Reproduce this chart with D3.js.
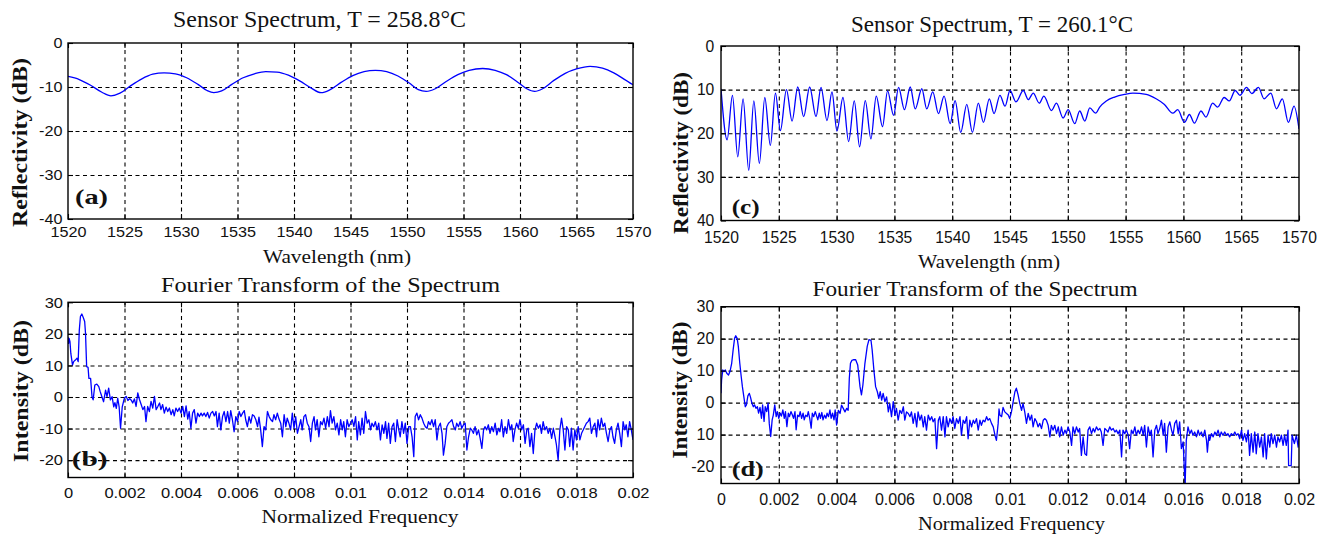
<!DOCTYPE html>
<html>
<head>
<meta charset="utf-8">
<script src="https://cdn.jsdelivr.net/npm/d3@7"></script>
<style>
  body { margin: 0; background: #fff; }
  svg { display: block; }
</style>
</head>
<body>
<svg id="fig" width="1337" height="540"></svg>
<script>
///// DATOS /////

// (a) espectro del sensor, T = 258.8 °C
const wavelengthA = [1520.0,1521.0,1522.0,1523.0,1523.8,1524.6,1525.5,1526.5,1527.5,1528.5,1529.5,1530.5,1531.5,1532.3,1532.9,1533.6,1534.5,1535.5,1536.5,1537.5,1538.5,1539.5,1540.5,1541.5,1542.4,1543.2,1544.2,1545.2,1546.2,1547.2,1548.2,1549.2,1550.2,1551.0,1551.7,1552.5,1553.5,1554.5,1555.5,1556.7,1557.8,1558.8,1559.8,1560.6,1561.3,1562.0,1563.0,1564.0,1565.0,1566.2,1567.3,1568.3,1569.2,1570.0];
const reflectA = [-7.6,-8.3,-9.6,-11.2,-12.0,-11.4,-9.8,-8.2,-7.1,-6.8,-7.0,-7.9,-9.4,-10.8,-11.3,-10.9,-9.4,-7.9,-7.0,-6.5,-6.6,-7.3,-8.6,-10.2,-11.3,-10.6,-8.9,-7.4,-6.5,-6.2,-6.5,-7.5,-9.1,-10.6,-11.0,-10.4,-8.7,-7.2,-6.2,-5.8,-6.2,-7.2,-8.9,-10.4,-11.0,-10.4,-8.5,-6.9,-5.9,-5.3,-5.7,-6.8,-8.2,-9.5];

// (c) espectro del sensor, T = 260.1 °C (picos y valles de las franjas)
const wavelengthC = [
  1520.00,1520.53,1520.99,1521.45,1521.91,1522.40,1522.84,1523.32,1523.79,1524.27,
  1524.71,1525.14,1525.66,1526.15,1526.64,1527.15,1527.67,1528.22,1528.65,1529.17,
  1529.60,1530.03,1530.55,1531.04,1531.53,1531.99,1532.48,1532.97,1533.43,1533.97,
  1534.41,1534.93,1535.36,1535.87,1536.37,1536.80,1537.37,1537.80,1538.32,1538.81,
  1539.30,1539.82,1540.25,1540.74,1541.26,1541.75,1542.26,1542.70,1543.21,1543.62,
  1544.13,1544.57,1545.00,1545.52,1546.15,1546.58,1547.01,1547.53,1547.93,1548.59,
  1549.02,1549.60,1550.03,1550.60,1551.03,1551.47,1551.90,1552.41,1552.76,1553.33,
  1554.05,1554.91,1555.63,1556.78,1557.64,1558.36,1559.08,1559.51,1560.09,1560.52,
  1560.95,1561.52,1561.95,1562.53,1562.96,1563.53,1563.97,1564.48,1564.89,1565.46,
  1565.92,1566.49,1566.98,1567.56,1568.05,1568.56,1569.08,1569.57,1570.00];
const reflectC = [
  9.8,21.5,11.3,25.4,12.1,28.5,12.6,26.9,11.8,22.8,
  10.8,19.4,10.0,17.2,9.4,16.2,9.4,16.2,9.5,17.1,
  10.5,19.5,11.8,21.9,12.6,23.1,12.5,21.3,11.5,18.5,
  10.3,15.9,9.5,14.6,9.4,14.4,9.8,14.4,10.5,15.5,
  11.5,17.8,12.5,19.8,13.4,19.8,13.1,17.5,12.1,15.5,
  11.3,13.8,10.2,12.8,10.2,12.3,10.8,13.1,11.5,14.8,
  13.1,16.5,14.6,17.8,14.9,17.2,14.2,15.4,14.0,12.6,
  11.7,11.1,10.8,11.1,12.1,13.4,15.4,14.6,17.5,15.7,
  17.7,14.9,16.3,13.1,14.0,11.8,12.6,10.2,11.3,9.5,
  10.9,9.5,12.1,10.8,14.4,12.1,17.5,13.8,19.0];

// (b) transformada de Fourier de (a); frecuencia normalizada x 1e-3
const freqB = [
  0.00,0.02,0.04,0.07,0.10,0.16,0.20,0.26,0.32,0.36,0.40,0.44,0.49,0.54,0.59,0.62,0.66,0.71,0.74,0.80,
  0.85,0.89,0.95,1.02,1.09,1.14,1.20,1.26,1.33,1.38,1.44,1.50,1.56,1.62,1.66,1.71,1.76,1.81,1.86,1.92,1.98,
  2.00,2.06,2.12,2.18,2.24,2.29,2.35,2.41,2.47,2.53,2.59,2.65,2.71,2.76,2.82,2.88,2.94,
  3.00,3.06,3.12,3.18,3.24,3.29,3.35,3.41,3.47,3.53,3.59,3.65,3.71,3.76,3.82,3.88,3.94,
  4.00,4.06,4.12,4.18,4.24,4.29,4.35,4.41,4.47,4.53,4.59,4.65,4.71,4.76,4.82,4.88,4.94,
  5.00,5.06,5.12,5.18,5.24,5.29,5.35,5.41,5.47,5.53,5.59,5.65,5.71,5.76,5.82,5.88,5.94,
  6.00,6.06,6.12,6.18,6.24,6.29,6.35,6.41,6.47,6.53,6.59,6.65,6.71,6.76,6.82,6.88,6.94,
  7.00,7.06,7.12,7.18,7.24,7.29,7.35,7.41,7.47,7.53,7.59,7.65,7.71,7.76,7.82,7.88,7.94,
  8.00,8.06,8.12,8.18,8.24,8.29,8.35,8.41,8.47,8.53,8.59,8.65,8.71,8.76,8.82,8.88,8.94,
  9.00,9.06,9.12,9.18,9.24,9.29,9.35,9.41,9.47,9.53,9.59,9.65,9.71,9.76,9.82,9.88,9.94,
  10.00,10.06,10.12,10.18,10.24,10.29,10.35,10.41,10.47,10.53,10.59,10.65,10.71,10.76,10.82,10.88,10.94,
  11.00,11.06,11.12,11.18,11.24,11.29,11.35,11.41,11.47,11.53,11.59,11.65,11.71,11.76,11.82,11.88,11.94,
  12.00,12.06,12.12,12.18,12.24,12.29,12.35,12.41,12.47,12.53,12.59,12.65,12.71,12.76,12.82,12.88,12.94,
  13.00,13.06,13.12,13.18,13.24,13.29,13.35,13.41,13.47,13.53,13.59,13.65,13.71,13.76,13.82,13.88,13.94,
  14.00,14.06,14.12,14.18,14.24,14.29,14.35,14.41,14.47,14.53,14.59,14.65,14.71,14.76,14.82,14.88,14.94,
  15.00,15.06,15.12,15.18,15.24,15.29,15.35,15.41,15.47,15.53,15.59,15.65,15.71,15.76,15.82,15.88,15.94,
  16.00,16.06,16.12,16.18,16.24,16.29,16.35,16.41,16.47,16.53,16.59,16.65,16.71,16.76,16.82,16.88,16.94,
  17.00,17.06,17.12,17.18,17.24,17.29,17.35,17.41,17.47,17.53,17.59,17.65,17.71,17.76,17.82,17.88,17.94,
  18.00,18.06,18.12,18.18,18.24,18.29,18.35,18.41,18.47,18.53,18.59,18.65,18.71,18.76,18.82,18.88,18.94,
  19.00,19.06,19.12,19.18,19.24,19.29,19.35,19.41,19.47,19.53,19.59,19.65,19.71,19.76,19.82,19.88,19.94,
  20.00];
const intensB = [
  19.0,17.0,18.6,17.5,13.8,10.1,11.2,11.7,12.3,11.2,21.2,25.5,26.3,25.2,23.9,20.2,9.6,9.4,5.9,5.9,
  0.1,-0.9,3.8,4.1,3.3,1.7,0.1,-1.5,2.2,0.1,2.8,-0.9,0.1,-3.1,-1.8,-3.6,-0.4,-3.1,-9.9,-3.1,-0.9,
  -0.3,0.2,-1.1,-0.5,-1.0,-1.9,-0.6,-3.0,1.3,-0.8,-2.4,-4.0,-3.0,-7.8,-3.0,-4.6,-1.4,
  -3.5,0.2,-4.0,-3.0,-1.9,-4.0,-2.4,-5.1,-3.2,-4.6,-3.5,-5.6,-4.0,-6.0,-3.5,-4.6,-3.5,
  -5.1,-3.0,-6.2,-2.8,-7.0,-4.6,-9.9,-5.1,-4.0,-8.3,-5.1,-6.2,-5.1,-6.0,-5.1,-6.2,-4.9,
  -6.7,-5.1,-4.6,-6.0,-4.6,-9.4,-5.1,-10.4,-6.2,-4.6,-7.8,-4.6,-8.3,-4.3,-7.2,-11.0,-6.2,
  -7.8,-4.6,-6.2,-5.1,-4.3,-7.2,-9.4,-6.2,-8.3,-5.6,-6.0,-7.2,-9.4,-6.4,-10.4,-15.7,-9.4,
  -10.4,-4.6,-6.2,-7.2,-7.8,-5.6,-7.2,-5.1,-7.0,-8.3,-12.6,-5.6,-9.4,-6.7,-8.3,-10.4,-5.1,
  -9.9,-6.2,-11.5,-9.4,-7.2,-10.4,-6.2,-5.6,-8.3,-9.4,-14.1,-8.3,-6.2,-10.4,-7.2,-12.6,-7.8,
  -8.8,-6.7,-9.9,-6.2,-9.4,-4.3,-8.3,-6.2,-10.4,-8.3,-12.0,-7.2,-10.4,-7.8,-12.6,-7.2,-9.4,
  -8.3,-7.2,-9.4,-6.2,-13.6,-7.8,-12.0,-6.7,-11.5,-4.6,-8.3,-7.2,-10.4,-8.3,-9.4,-7.8,-10.4,
  -8.3,-13.6,-8.8,-11.5,-7.8,-13.1,-8.3,-14.7,-9.4,-8.3,-14.1,-7.2,-10.4,-12.6,-7.8,-11.5,-8.3,
  -14.7,-9.4,-9.4,-12.6,-18.9,-6.2,-5.1,-7.2,-5.6,-6.7,-8.3,-9.4,-9.9,-7.8,-8.8,-7.2,-9.4,
  -7.2,-13.6,-9.4,-8.3,-11.5,-18.4,-14.7,-9.4,-8.3,-7.8,-7.2,-9.4,-10.4,-8.3,-9.4,-7.8,-9.9,
  -8.8,-8.3,-16.8,-12.6,-9.9,-10.4,-11.5,-9.4,-12.0,-10.4,-13.1,-16.3,-10.4,-9.4,-10.4,-8.8,-11.5,
  -9.4,-11.0,-8.3,-12.0,-9.9,-11.0,-7.2,-12.6,-9.4,-11.5,-7.2,-10.4,-8.8,-14.1,-10.4,-8.3,-9.9,
  -7.2,-10.4,-8.8,-14.7,-10.4,-9.9,-15.7,-11.5,-17.9,-10.4,-8.3,-9.9,-8.8,-11.5,-7.8,-10.4,-9.4,
  -11.5,-9.9,-13.1,-9.9,-12.6,-15.2,-20.0,-10.4,-6.7,-10.4,-16.8,-9.4,-10.4,-15.7,-9.9,-16.8,-10.4,
  -13.6,-9.4,-13.6,-11.5,-10.4,-9.4,-8.3,-7.8,-6.7,-11.5,-9.4,-8.3,-12.6,-7.2,-10.4,-6.7,-9.4,
  -8.3,-11.5,-14.1,-10.4,-9.4,-12.6,-14.7,-10.4,-8.3,-11.5,-15.7,-7.8,-10.4,-8.8,-12.6,-7.8,-10.4,
  -13.6];

// (d) transformada de Fourier de (c); frecuencia normalizada x 1e-3
const freqD = [
  0.00,0.02,0.06,0.10,0.15,0.20,0.26,0.31,0.37,0.42,
  0.47,0.51,0.56,0.60,0.65,0.70,0.74,0.79,0.84,0.88,
  0.93,0.98,1.02,1.07,1.12,1.16,1.21,1.26,1.30,1.35,
  1.40,1.44,1.49,1.53,1.58,1.63,1.67,1.72,1.77,1.81,
  1.86,1.91,1.95,2.00,2.05,2.09,2.14,2.19,2.23,2.28,
  2.33,2.37,2.42,2.47,2.51,2.56,2.60,2.65,2.70,2.74,
  2.79,2.84,2.88,2.93,2.98,3.02,3.07,3.12,3.16,3.21,
  3.26,3.30,3.35,3.40,3.44,3.49,3.53,3.58,3.63,3.67,
  3.72,3.77,3.81,3.86,3.91,3.95,4.00,
  4.06,4.12,4.17,4.23,4.29,4.35,4.40,4.44,4.48,4.53,
  4.58,4.66,4.73,4.81,4.86,4.91,4.98,5.06,5.12,5.19,
  5.23,5.29,5.35,5.41,5.46,5.51,5.56,5.61,5.67,5.73,
  5.79,5.84,5.90,5.96,6.02,6.07,6.13,6.19,6.25,6.31,
  6.36,6.42,6.48,6.54,6.59,6.65,6.71,6.77,6.82,6.88,
  6.94,7.00,7.05,7.11,7.17,7.23,7.29,7.34,7.40,7.46,
  7.52,7.57,7.63,7.69,7.75,7.80,7.86,7.92,7.98,8.03,
  8.09,8.15,8.21,8.27,8.32,8.38,8.44,8.50,8.55,8.61,
  8.67,8.73,8.78,8.84,8.90,8.96,9.01,9.07,9.13,9.19,
  9.24,9.30,9.36,9.42,9.48,9.53,9.59,9.62,9.65,9.71,
  9.76,9.82,9.88,9.94,9.99,10.05,10.11,10.17,10.22,10.28,
  10.34,10.40,10.45,10.51,10.57,10.63,10.69,10.75,10.80,10.86,
  10.92,10.97,11.03,11.09,11.15,11.20,11.26,11.32,11.38,11.43,
  11.49,11.55,11.61,11.67,11.72,11.78,11.84,11.90,11.95,12.01,
  12.07,12.13,12.18,12.24,12.30,12.36,12.41,12.47,12.53,12.59,
  12.65,12.70,12.76,12.82,12.88,12.93,12.99,13.05,13.11,13.16,
  13.22,13.28,13.34,13.39,13.45,13.51,13.57,13.63,13.68,13.74,
  13.80,13.86,13.91,13.97,14.03,14.09,14.14,14.20,14.26,14.32,
  14.37,14.43,14.49,14.55,14.61,14.66,14.72,14.78,14.84,14.89,
  14.95,15.01,15.07,15.12,15.18,15.24,15.30,15.35,15.41,15.47,
  15.53,15.59,15.64,15.70,15.76,15.82,15.87,15.93,15.99,16.03,
  16.06,16.10,16.16,16.22,16.28,16.33,16.39,16.45,16.51,16.56,
  16.62,16.68,16.74,16.80,16.83,16.88,16.91,16.97,17.03,17.09,
  17.14,17.20,17.26,17.31,17.37,17.43,17.49,17.54,17.60,17.66,
  17.72,17.78,17.83,17.89,17.95,18.01,18.06,18.12,18.18,18.24,
  18.29,18.35,18.41,18.47,18.52,18.58,18.64,18.70,18.76,18.81,
  18.87,18.93,18.99,19.04,19.10,19.16,19.22,19.27,19.33,19.39,
  19.45,19.50,19.56,19.62,19.64,19.73,19.76,19.84,19.91,19.97,
  20.00];
const intensD = [
  2.9,7.1,10.2,9.7,10.2,9.2,8.6,9.7,12.3,16.5,
  20.1,20.9,20.1,17.5,12.3,8.1,5.0,1.9,-1.3,-0.7,
  2.1,2.9,1.7,-0.2,-1.3,-0.7,-1.8,-1.3,-3.3,-1.5,
  -4.9,-0.7,-5.9,-1.3,-2.8,-0.2,-6.5,-10.6,-5.4,-3.9,
  -0.7,-4.4,-2.8,-4.9,-3.3,-4.2,-2.3,-4.9,-2.8,-7.5,
  -3.3,-4.4,-2.8,-3.9,-4.9,-2.8,-8.5,-3.9,-4.4,-2.8,
  -4.9,-3.3,-5.4,-3.9,-4.4,-2.8,-4.9,-8.0,-3.3,-4.4,
  -2.8,-3.9,-5.4,-3.3,-4.9,-3.1,-5.4,-3.9,-4.9,-3.3,
  -4.4,-2.3,-4.9,-3.3,-5.4,-2.3,-7.0,
  -2.4,-3.4,-0.8,-1.8,-2.9,-1.8,-2.4,7.6,12.3,13.2,
  13.4,13.4,11.8,5.0,2.4,5.5,12.3,17.6,19.7,19.5,
  16.5,10.2,5.0,3.4,1.3,3.4,0.8,2.9,0.3,1.8,
  -2.9,-0.3,-4.4,0.3,-3.9,-1.8,-5.5,-2.4,-3.4,-1.3,
  -5.5,-2.9,-3.4,-4.4,-2.9,-6.5,-3.4,-7.6,-2.9,-5.5,
  -3.9,-7.6,-4.4,-8.6,-3.9,-5.5,-4.4,-6.0,-5.0,-14.4,
  -5.5,-4.4,-8.6,-4.4,-10.7,-4.4,-7.6,-5.0,-6.5,-4.4,
  -8.1,-5.0,-6.5,-4.4,-10.2,-5.5,-6.5,-4.4,-11.3,-5.5,
  -7.6,-5.5,-6.5,-5.0,-8.6,-5.5,-7.1,-5.5,-6.0,-4.4,
  -5.5,-5.0,-6.5,-7.6,-10.2,-11.8,-6.5,-2.0,-3.9,-4.4,
  -1.5,-2.9,-3.4,-3.9,-5.0,-2.9,0.3,3.4,4.5,2.4,
  -0.3,-2.4,-0.3,-2.9,-6.5,-3.4,-5.5,-3.9,-7.6,-5.0,
  -6.0,-7.6,-6.5,-8.1,-5.5,-5.0,-5.5,-7.1,-10.7,-7.1,
  -8.6,-7.1,-9.7,-7.6,-10.7,-7.6,-10.2,-8.6,-9.7,-7.6,
  -9.2,-13.4,-7.6,-9.7,-7.6,-9.2,-8.1,-16.5,-10.7,-16.0,
  -16.5,-8.6,-7.6,-9.7,-8.1,-9.2,-7.6,-8.6,-8.1,-9.2,
  -13.4,-8.1,-8.6,-9.2,-7.6,-8.6,-8.1,-9.2,-8.6,-9.7,
  -8.6,-17.0,-8.6,-9.7,-8.6,-10.2,-14.4,-8.6,-9.7,-7.6,
  -10.2,-8.6,-9.7,-7.6,-10.2,-7.1,-13.9,-7.6,-10.2,-8.6,
  -17.0,-8.6,-7.1,-9.7,-8.1,-5.5,-10.2,-6.5,-15.5,-7.6,
  -6.0,-8.6,-10.2,-6.5,-5.5,-9.7,-6.0,-14.4,-12.3,-20.2,
  -26.0,-11.8,-7.6,-9.7,-8.6,-10.2,-9.2,-10.7,-8.6,-10.2,
  -9.2,-10.7,-8.6,-11.8,-15.5,-10.2,-11.8,-9.7,-10.7,-9.2,
  -10.2,-8.6,-10.7,-9.2,-10.2,-9.2,-10.2,-9.7,-10.7,-9.7,
  -10.2,-9.2,-10.2,-9.7,-11.3,-8.6,-11.8,-9.7,-12.3,-8.6,
  -16.5,-9.7,-15.5,-9.2,-16.0,-9.7,-13.9,-10.7,-17.0,-9.7,
  -17.6,-10.2,-13.9,-9.7,-12.8,-10.2,-13.9,-10.7,-12.3,-10.2,
  -13.4,-10.2,-13.4,-8.6,-19.7,-19.7,-10.2,-12.8,-10.2,-13.9,
  -10.2];

// Marcas de los ejes y sus etiquetas
const wlTicks = [1520,1525,1530,1535,1540,1545,1550,1555,1560,1565,1570];
const wlTickLabels = ['1520','1525','1530','1535','1540','1545','1550','1555','1560','1565','1570'];
const freqTicks = [0,2,4,6,8,10,12,14,16,18,20];
const freqTickLabels = ['0','0.002','0.004','0.006','0.008','0.01','0.012','0.014','0.016','0.018','0.02'];
const reflTicksA = [0,-10,-20,-30,-40];
const reflTickLabelsA = ['0','-10','-20','-30','-40'];
const reflTicksC = [0,10,20,30,40];
const reflTickLabelsC = ['0','10','20','30','40'];
const intensTicks = [30,20,10,0,-10,-20];
const intensTickLabelsB = ['30','20','10','0','-10','-20'];
const intensTickLabelsD = ['30','20','10','0','10','-20'];

// Textos
const titleA = 'Sensor Spectrum, T = 258.8°C';
const titleC = 'Sensor Spectrum, T = 260.1°C';
const titleFT = 'Fourier Transform of the Spectrum';
const xLabelWl = 'Wavelength (nm)';
const xLabelFreq = 'Normalized Frequency';
const yLabelRefl = 'Reflectivity (dB)';
const yLabelInt = 'Intensity (dB)';

///// DIBUJO /////
const svg = d3.select('#fig');
const serif = '"Liberation Serif", "Times New Roman", Times, serif';
const sans = '"Liberation Sans", Arial, Helvetica, sans-serif';
const lineBlue = '#0000ff';

const panels = [
  { tag: '(a)', xs: wavelengthA, ys: reflectA, curve: d3.curveMonotoneX,
    xDomain: [1520, 1570], yDomain: [-40, 0],
    xTicks: wlTicks, xTickLabels: wlTickLabels, yTicks: reflTicksA, yTickLabels: reflTickLabelsA,
    box: { left: 68, right: 633, top: 43, bottom: 219 },
    tickFont: 15, tickSx: 1.08, xPad: 7, yGap: 5.6,
    title: { text: titleA, cx: 319.5, by: 26.5, size: 22.5, len: 293 },
    xlab: { text: xLabelWl, cx: 337, by: 262.5, size: 18, len: 148 },
    ylab: { text: yLabelRefl, bx: 27, cy: 142.5, size: 21, len: 169 },
    letter: { x: 75, by: 204, size: 22, len: 33 } },
  { tag: '(c)', xs: wavelengthC, ys: reflectC, curve: d3.curveMonotoneX,
    xDomain: [1520, 1570], yDomain: [40, 0],
    xTicks: wlTicks, xTickLabels: wlTickLabels, yTicks: reflTicksC, yTickLabels: reflTickLabelsC,
    box: { left: 721, right: 1299, top: 46, bottom: 220.5 },
    tickFont: 16.5, tickSx: 0.95, xPad: 11, yGap: 6.7,
    title: { text: titleC, cx: 992, by: 31.5, size: 22.5, len: 282 },
    xlab: { text: xLabelWl, cx: 989, by: 268, size: 18, len: 142 },
    ylab: { text: yLabelRefl, bx: 687.5, cy: 153, size: 21, len: 162 },
    letter: { x: 731.7, by: 214, size: 22, len: 28 } },
  { tag: '(b)', xs: freqB, ys: intensB, curve: d3.curveLinear,
    xDomain: [0, 20], yDomain: [-25.5, 30],
    xTicks: freqTicks, xTickLabels: freqTickLabels, yTicks: intensTicks, yTickLabels: intensTickLabelsB,
    box: { left: 68, right: 633, top: 302.3, bottom: 477.5 },
    tickFont: 15, tickSx: 1.1, xPad: 10.3, yGap: 5,
    title: { text: titleFT, cx: 330.5, by: 291.5, size: 20.5, len: 339 },
    xlab: { text: xLabelFreq, cx: 360, by: 523, size: 18, len: 197 },
    ylab: { text: yLabelInt, bx: 28, cy: 391, size: 21, len: 142 },
    letter: { x: 71.7, by: 466, size: 22, len: 36 } },
  { tag: '(d)', xs: freqD, ys: intensD, curve: d3.curveLinear,
    xDomain: [0, 20], yDomain: [-25.3, 30],
    xTicks: freqTicks, xTickLabels: freqTickLabels, yTicks: intensTicks, yTickLabels: intensTickLabelsD,
    box: { left: 721, right: 1299, top: 306.7, bottom: 483.5 },
    tickFont: 16, tickSx: 1.0, xPad: 10.3, yGap: 6.7,
    title: { text: titleFT, cx: 975, by: 296, size: 21.5, len: 325 },
    xlab: { text: xLabelFreq, cx: 1011.5, by: 529.5, size: 18, len: 187 },
    ylab: { text: yLabelInt, bx: 687, cy: 390, size: 21, len: 137 },
    letter: { x: 731.7, by: 476, size: 22, len: 32 } }
];

panels.forEach(function(p, idx) { drawPanel(p, idx); });

function drawPanel(p, idx) {
    const b = p.box;
    const w = b.right - b.left, h = b.bottom - b.top;
    const x = d3.scaleLinear().domain(p.xDomain).range([b.left, b.right]);
    const y = d3.scaleLinear().domain(p.yDomain).range([b.bottom, b.top]);
    const g = svg.append('g').attr('class', 'panel');

    //Rejilla discontinua (solo líneas interiores)
    const innerX = p.xTicks.filter(function(v) { return x(v) > b.left + 1 && x(v) < b.right - 1; });
    const innerY = p.yTicks.filter(function(v) { return y(v) > b.top + 1 && y(v) < b.bottom - 1; });

    g.append('g')
        .attr('transform', 'translate(0,' + b.bottom + ')')
        .call(d3.axisBottom(x).tickValues(innerX).tickSize(-h).tickFormat(''))
        .call(function(s) { s.select('.domain').remove(); })
        .selectAll('line')
        .attr('stroke', '#000').attr('stroke-width', 1.1).attr('stroke-dasharray', '4,3.5');

    g.append('g')
        .attr('transform', 'translate(' + b.left + ',0)')
        .call(d3.axisLeft(y).tickValues(innerY).tickSize(-w).tickFormat(''))
        .call(function(s) { s.select('.domain').remove(); })
        .selectAll('line')
        .attr('stroke', '#000').attr('stroke-width', 1.1).attr('stroke-dasharray', '4,3.5');

    //Curva
    const clipId = 'clip-' + idx;
    svg.append('defs').append('clipPath').attr('id', clipId)
        .append('rect').attr('x', b.left).attr('y', b.top).attr('width', w).attr('height', h);

    const n = Math.min(p.xs.length, p.ys.length);
    const pts = p.xs.slice(0, n).map(function(v, i) { return [v, p.ys[i]]; });

    g.append('path')
        .datum(pts)
        .attr('clip-path', 'url(#' + clipId + ')')
        .attr('fill', 'none')
        .attr('stroke', lineBlue)
        .attr('stroke-width', 1.3)
        .attr('stroke-linejoin', 'round')
        .attr('d', d3.line().x(function(d) { return x(d[0]); }).y(function(d) { return y(d[1]); }).curve(p.curve));

    //Marcas interiores en los cuatro lados
    const tickMarks = [
        [d3.axisBottom(x).tickValues(p.xTicks), 'translate(0,' + b.bottom + ')'],
        [d3.axisTop(x).tickValues(p.xTicks), 'translate(0,' + b.top + ')'],
        [d3.axisLeft(y).tickValues(p.yTicks), 'translate(' + b.left + ',0)'],
        [d3.axisRight(y).tickValues(p.yTicks), 'translate(' + b.right + ',0)']
    ];
    tickMarks.forEach(function(t) {
        g.append('g').attr('transform', t[1])
            .call(t[0].tickSize(-5).tickFormat(''))
            .call(function(s) { s.select('.domain').remove(); })
            .selectAll('line').attr('stroke', '#000').attr('stroke-width', 1.1);
    });

    //Marco
    g.append('rect')
        .attr('x', b.left).attr('y', b.top).attr('width', w).attr('height', h)
        .attr('fill', 'none').attr('stroke', '#000').attr('stroke-width', 1.4);

    //Etiquetas de las marcas
    g.append('g')
        .attr('transform', 'translate(0,' + b.bottom + ')')
        .call(d3.axisBottom(x).tickValues(p.xTicks).tickSize(0).tickPadding(p.xPad)
            .tickFormat(function(d) { return p.xTickLabels[p.xTicks.indexOf(d)]; }))
        .call(function(s) { s.select('.domain').remove(); })
        .attr('font-family', sans).attr('font-size', p.tickFont)
        .selectAll('text')
        .attr('fill', '#111')
        .attr('transform', 'scale(' + p.tickSx + ',1)');

    g.append('g')
        .attr('transform', 'translate(' + b.left + ',0)')
        .call(d3.axisLeft(y).tickValues(p.yTicks).tickSize(0).tickPadding(p.yGap / p.tickSx)
            .tickFormat(function(d) { return p.yTickLabels[p.yTicks.indexOf(d)]; }))
        .call(function(s) { s.select('.domain').remove(); })
        .attr('font-family', sans).attr('font-size', p.tickFont)
        .selectAll('text')
        .attr('fill', '#111')
        .attr('transform', 'scale(' + p.tickSx + ',1)');

    //Título y rótulos de ejes
    g.append('text')
        .attr('x', p.title.cx).attr('y', p.title.by)
        .attr('text-anchor', 'middle')
        .attr('font-family', serif).attr('font-size', p.title.size)
        .attr('textLength', p.title.len).attr('lengthAdjust', 'spacingAndGlyphs')
        .attr('fill', '#111')
        .text(p.title.text);

    g.append('text')
        .attr('x', p.xlab.cx).attr('y', p.xlab.by)
        .attr('text-anchor', 'middle')
        .attr('font-family', serif).attr('font-size', p.xlab.size)
        .attr('textLength', p.xlab.len).attr('lengthAdjust', 'spacingAndGlyphs')
        .attr('fill', '#111')
        .text(p.xlab.text);

    g.append('text')
        .attr('transform', 'translate(' + p.ylab.bx + ',' + p.ylab.cy + ') rotate(-90)')
        .attr('text-anchor', 'middle')
        .attr('font-family', serif).attr('font-size', p.ylab.size).attr('font-weight', 'bold')
        .attr('textLength', p.ylab.len).attr('lengthAdjust', 'spacingAndGlyphs')
        .attr('fill', '#111')
        .text(p.ylab.text);

    //Letra del panel
    g.append('text')
        .attr('x', p.letter.x).attr('y', p.letter.by)
        .attr('font-family', serif).attr('font-size', p.letter.size).attr('font-weight', 'bold')
        .attr('textLength', p.letter.len).attr('lengthAdjust', 'spacingAndGlyphs')
        .attr('fill', '#111')
        .text(p.tag);
}
</script>
</body>
</html>
